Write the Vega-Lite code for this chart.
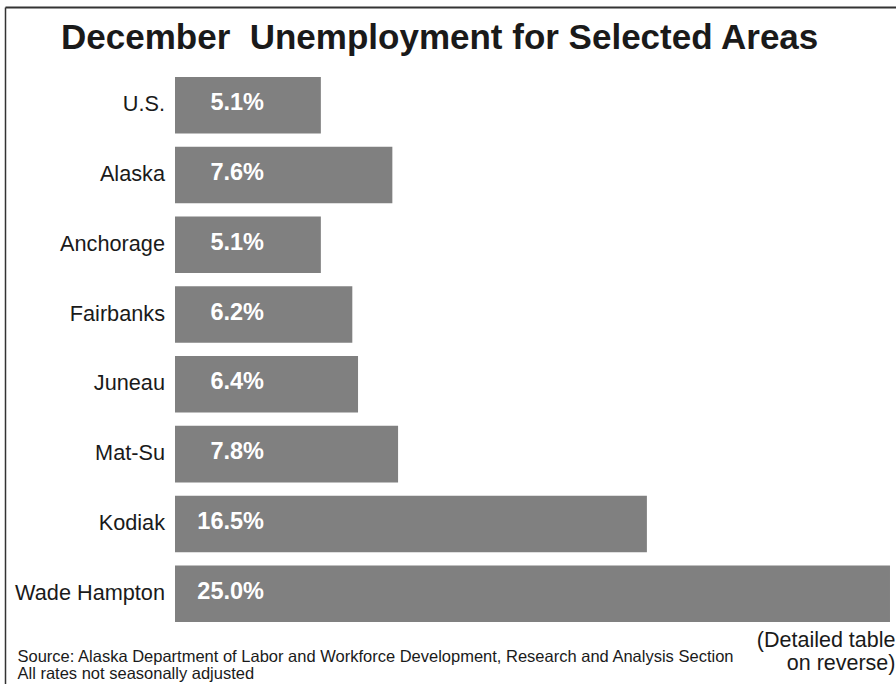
{
  "$schema": "https://vega.github.io/schema/vega-lite/v6.json",
  "autosize": "none",
  "width": 891,
  "height": 677,
  "padding": {"left": 5, "top": 7, "right": 0, "bottom": 0},
  "background": "white",
  "config": {
    "view": {"stroke": null},
    "font": "Liberation Sans",
    "axisX": {
      "orient": "top",
      "labels": false,
      "ticks": false,
      "grid": false,
      "domain": true,
      "domainColor": "#333333",
      "domainWidth": 2,
      "titleX": 12,
      "titleY": 654,
      "titleAlign": "left",
      "titleAnchor": "start",
      "titleBaseline": "alphabetic",
      "titleFont": "Liberation Sans",
      "titleFontSize": 16.5,
      "titleFontWeight": "normal",
      "titleColor": "#1a1a1a",
      "titleLineHeight": 17
    }
  },
  "title": {
    "text": "December\u00a0 Unemployment for Selected Areas",
    "anchor": "start",
    "frame": "group",
    "orient": "top",
    "fontSize": 35,
    "fontWeight": "bold",
    "font": "Liberation Sans",
    "color": "#1a1a1a",
    "baseline": "alphabetic",
    "offset": -77,
    "dx": 56
  },
  "data": {
    "values": [
      {"area": "U.S.", "rate": 5.1, "label": "5.1%"},
      {"area": "Alaska", "rate": 7.6, "label": "7.6%"},
      {"area": "Anchorage", "rate": 5.1, "label": "5.1%"},
      {"area": "Fairbanks", "rate": 6.2, "label": "6.2%"},
      {"area": "Juneau", "rate": 6.4, "label": "6.4%"},
      {"area": "Mat-Su", "rate": 7.8, "label": "7.8%"},
      {"area": "Kodiak", "rate": 16.5, "label": "16.5%"},
      {"area": "Wade Hampton", "rate": 25.0, "label": "25.0%"}
    ]
  },
  "encoding": {
    "y": {
      "field": "area",
      "type": "nominal",
      "sort": null,
      "scale": {"paddingInner": 0.19, "paddingOuter": 0.946, "align": 0.53},
      "axis": {
        "orient": "left",
        "labels": false,
        "ticks": false,
        "grid": false,
        "domain": true,
        "domainColor": "#333333",
        "domainWidth": 1.5,
        "title": ["(Detailed table", "on reverse)"],
        "titleAngle": 0,
        "titleX": 890,
        "titleY": 639,
        "titleAlign": "right",
        "titleBaseline": "alphabetic",
        "titleFont": "Liberation Sans",
        "titleFontSize": 21.5,
        "titleFontWeight": "normal",
        "titleColor": "#1a1a1a",
        "titleLineHeight": 23
      }
    }
  },
  "layer": [
    {
      "mark": {"type": "bar", "color": "#808080"},
      "encoding": {
        "x": {
          "field": "rate",
          "type": "quantitative",
          "scale": {"domain": [-5.944, 25.21], "nice": false, "zero": false},
          "axis": {"orient": "top", "title": ["Source: Alaska Department of Labor and Workforce Development, Research and Analysis Section", "All rates not seasonally adjusted"]}
        }
      }
    },
    {
      "mark": {"type": "text", "align": "right", "baseline": "alphabetic", "dx": 89, "dy": 5, "fontSize": 23.5, "fontWeight": "bold", "color": "white", "font": "Liberation Sans"},
      "encoding": {
        "x": {"datum": 0, "type": "quantitative", "axis": {"orient": "top", "title": ["Source: Alaska Department of Labor and Workforce Development, Research and Analysis Section", "All rates not seasonally adjusted"]}},
        "text": {"field": "label", "type": "nominal"}
      }
    },
    {
      "mark": {"type": "text", "align": "right", "baseline": "alphabetic", "dx": -10, "dy": 6, "fontSize": 21.7, "color": "#1a1a1a", "font": "Liberation Sans"},
      "encoding": {
        "x": {"datum": 0, "type": "quantitative", "axis": {"orient": "top", "title": ["Source: Alaska Department of Labor and Workforce Development, Research and Analysis Section", "All rates not seasonally adjusted"]}},
        "text": {"field": "area", "type": "nominal"}
      }
    }
  ]
}
